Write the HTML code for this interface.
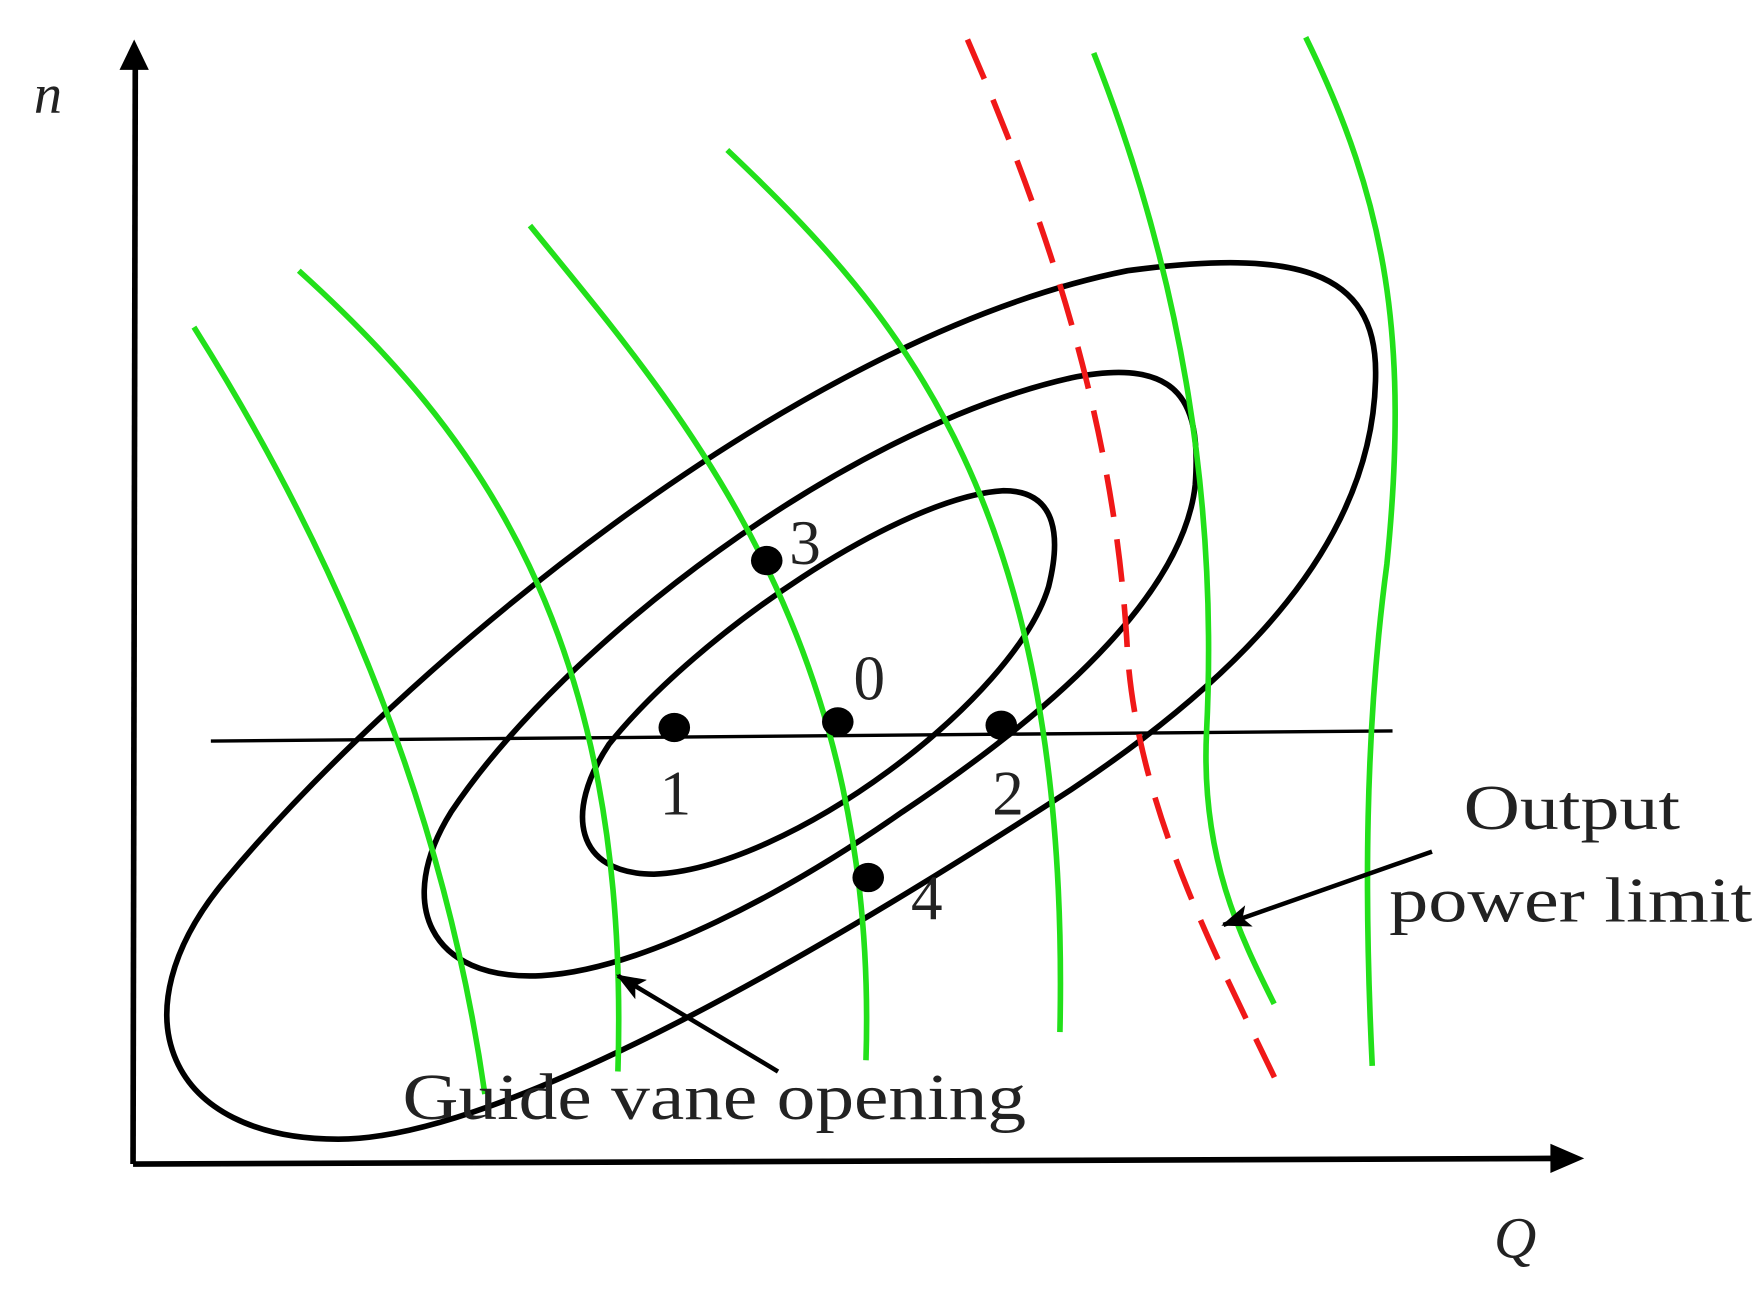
<!DOCTYPE html>
<html><head><style>html,body{margin:0;padding:0;background:#fff}svg{display:block}</style></head><body>
<svg width="1759" height="1305" viewBox="0 0 1560 1157" preserveAspectRatio="none" xmlns="http://www.w3.org/2000/svg">
<defs><marker id="ah" markerWidth="26" markerHeight="20" refX="24" refY="10" orient="auto" markerUnits="userSpaceOnUse" viewBox="0 0 26 20"><path d="M0 0 L26 10 L0 20 L6 10 Z" fill="#000"/></marker></defs>
<g fill="none" stroke="#000">
<path d="M118 1032 L120 50" stroke-width="5"/>
<path d="M106 62 L119 35 L132 62 Z" fill="#000" stroke="none"/>
<path d="M118 1032 L1385 1027" stroke-width="5"/>
<path d="M1375 1014 L1405 1027 L1375 1040 Z" fill="#000" stroke="none"/>
<path d="M187 657 L1235 648" stroke-width="3"/>
<path d="M300 1010 C150 1010,100 900,200 780 C350 600,700 300,1000 240 C1150 220,1220 240,1220 330 C1220 480,1100 600,950 700 C750 830,450 1010,300 1010 Z" stroke-width="5"/>
<path d="M480 865 C380 870,350 800,400 720 C500 570,750 380,950 335 C1050 315,1065 360,1060 430 C1050 520,950 620,800 720 C700 790,570 860,480 865 Z" stroke-width="5"/>
<path d="M580 775 C510 775,500 720,540 660 C620 560,800 440,890 435 C940 435,940 480,930 520 C900 620,700 770,580 775 Z" stroke-width="5"/>
</g>
<g fill="none" stroke="#22e01a" stroke-width="5">
<path d="M172 290 Q380 620 430 970"/>
<path d="M265 240 C420 380,560 560,548 950"/>
<path d="M470 200 C600 360,780 560,768 940"/>
<path d="M645 133 C800 280,950 450,940 915"/>
<path d="M970 47 C1050 250,1080 450,1070 650 C1065 760,1100 830,1130 890"/>
<path d="M1158 33 C1230 180,1250 300,1230 500 C1210 650,1210 800,1217 945"/>
</g>
<path d="M858 35 C930 200,990 380,1000 580 C1010 720,1080 850,1135 965" fill="none" stroke="#f01818" stroke-width="5" stroke-dasharray="38 20"/>
<g fill="#000">
<ellipse cx="598" cy="645" rx="14" ry="13"/><ellipse cx="743" cy="640" rx="14" ry="13"/><ellipse cx="888" cy="643" rx="14" ry="13"/><ellipse cx="680" cy="497" rx="14" ry="13"/><ellipse cx="770" cy="778" rx="14" ry="13"/>
</g>
<g stroke="#000" stroke-width="4">
<line x1="1270" y1="755" x2="1085" y2="820" marker-end="url(#ah)"/>
<line x1="690" y1="950" x2="548" y2="865" marker-end="url(#ah)"/>
</g>
<g font-family="Liberation Serif, serif" font-size="56" fill="#222">
<text x="700" y="500">3</text><text x="757" y="620">0</text><text x="585" y="722">1</text><text x="880" y="722">2</text><text x="808" y="815">4</text>
<text x="1298" y="735" textLength="192" lengthAdjust="spacingAndGlyphs">Output</text><text x="1232" y="817" textLength="322" lengthAdjust="spacingAndGlyphs">power limit</text>
<text x="357" y="992" font-size="58" textLength="553" lengthAdjust="spacingAndGlyphs">Guide vane opening</text>
<text x="30" y="100" font-style="italic" font-size="50">n</text>
<text x="1325" y="1115" font-style="italic" font-size="52">Q</text>
</g>
</svg>
</body></html>
